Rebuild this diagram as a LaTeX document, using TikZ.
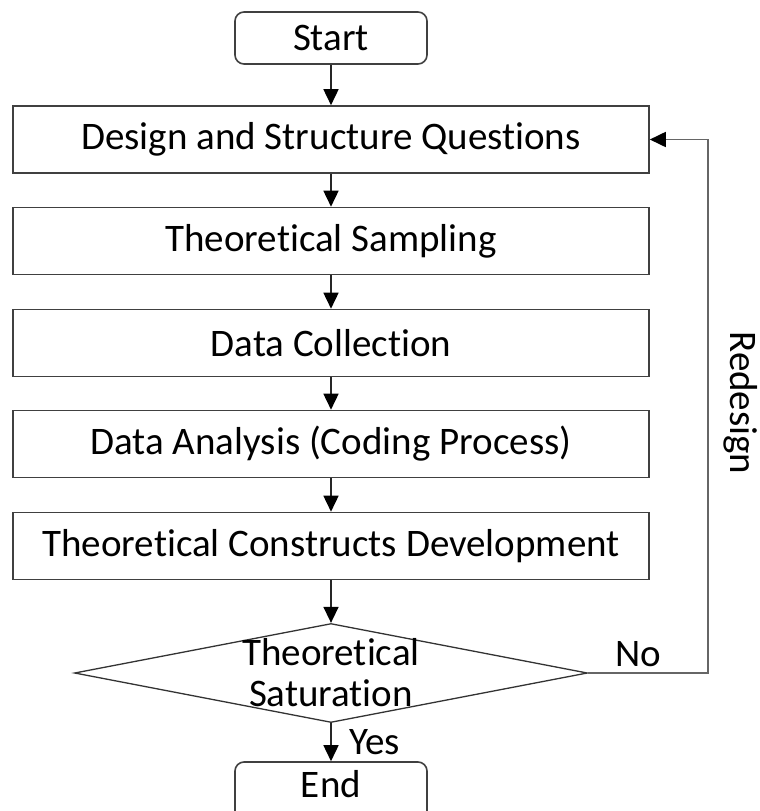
\documentclass[tikz,border=0pt]{standalone}
\usepackage{fontspec}
\setmainfont[Ligatures=NoCommon]{Carlito}
\usetikzlibrary{arrows.meta,shapes.geometric}

\tikzset{
    stepbox/.style={draw=black!75, line width=1.6pt, minimum width=636pt, minimum height=67pt, inner sep=0pt},
    termbox/.style={draw=black!75, line width=1.6pt, rounded corners=9pt, minimum width=192pt, minimum height=52pt, inner sep=0pt},
    decision/.style={draw=black!80, line width=1.3pt, diamond, minimum width=513pt, minimum height=99pt, inner sep=0pt},
    flow/.style={draw=black!85, line width=1.6pt, -{Triangle[width=15pt,length=16pt,color=black]}},
    loopline/.style={draw=black!60, line width=1.8pt, -{Triangle[width=15pt,length=16pt,color=black]}}
}

\begin{document}
\begin{tikzpicture}[x=1pt, y=-1pt, font=\fontsize{39}{41}\selectfont]
        \useasboundingbox (0,0) rectangle (760,811);

        % start
        \node[termbox] (start) at (331, 38) {Start};

        % process steps
        \node[stepbox] (design) at (331, 139.5) {Design and Structure Questions};
        \node[stepbox] (sampling) at (331, 241) {Theoretical Sampling};
        \node[stepbox] (collection) at (331, 343) {Data Collection};
        \node[stepbox] (analysis) at (331, 444) {Data Analysis (Coding Process)};
        \node[stepbox] (constructs) at (331, 546) {Theoretical Constructs Development};

        % saturation check
        \node[decision, label={[align=center]center:Theoretical\\Saturation}] (saturation) at (331, 673) {};

        % end (cut off at the bottom edge)
        \node[termbox, minimum height=58pt, text depth=14pt] (end) at (331, 791) {End};

        % main flow
        \draw[flow] (start) -- (design);
        \draw[flow] (design) -- (sampling);
        \draw[flow] (sampling) -- (collection);
        \draw[flow] (collection) -- (analysis);
        \draw[flow] (analysis) -- (constructs);
        \draw[flow] (constructs) -- (saturation.north);
        \draw[flow] (saturation.south) -- node[right=14pt] (yes) {Yes} (end);

        % redesign loop
        \coordinate (corner) at (708, 673);
        \draw[loopline] (saturation.east) -- node[pos=0.42, above=2pt] (no) {No} (corner) |- (design.east);
        \node[rotate=-90] (redesign) at (741, 403) {Redesign};
\end{tikzpicture}
\end{document}
